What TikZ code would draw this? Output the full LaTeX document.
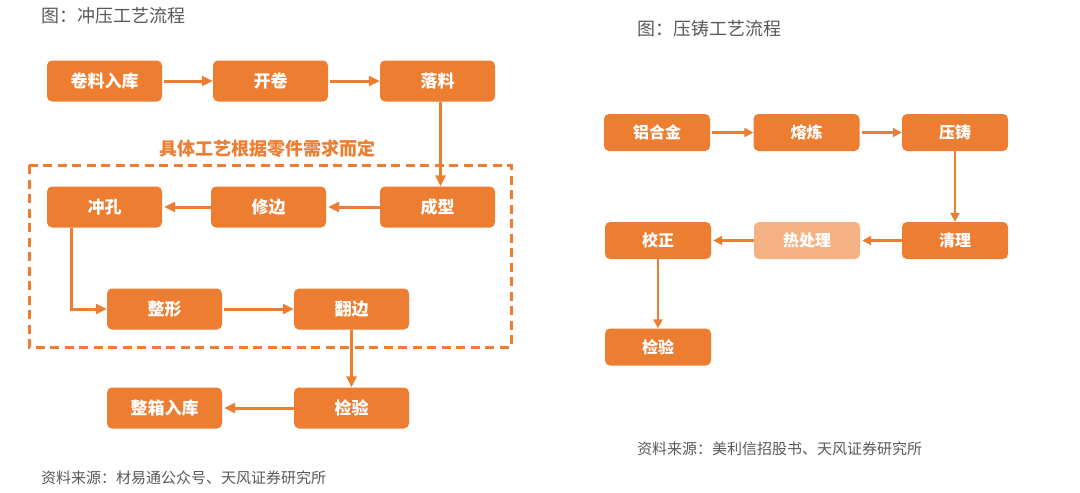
\documentclass[tikz,border=0pt]{standalone}
\usepackage{fontspec}
\setmainfont{Noto Sans CJK SC}
\usetikzlibrary{arrows.meta}
\definecolor{org}{HTML}{ED7D31}
\definecolor{lorg}{HTML}{F4B183}
\definecolor{gry}{HTML}{595959}
\tikzset{
  box/.style={draw=none,fill=org,rounded corners=5pt,text=white,inner sep=0pt},
  lbox/.style={box,minimum width=115pt,minimum height=41pt,font=\fontsize{17}{19}\selectfont\bfseries},
  rbox/.style={box,minimum width=106pt,minimum height=37pt,font=\fontsize{16}{18}\selectfont\bfseries},
  arr/.style={draw=org,line width=3pt,-{Triangle[length=11pt,width=10pt]}},
  rarr/.style={draw=org,line width=2.6pt,-{Triangle[length=9pt,width=9pt]}},
  ttl/.style={text=gry,font=\fontsize{18}{20}\selectfont,anchor=west,inner sep=0pt},
  src/.style={text=gry,font=\fontsize{15}{17}\selectfont,anchor=west,inner sep=0pt}
}
\begin{document}
\begin{tikzpicture}[x=1pt,y=-1pt]
\useasboundingbox (0,0) rectangle (1080,493);
% ---- left diagram ----
\node[ttl] (t1) at (41,16) {图：冲压工艺流程};
\node[lbox] (b1) at (104.5,81) {卷料入库};
\node[lbox] (b2) at (270.5,81) {开卷};
\node[lbox] (b3) at (437.5,81) {落料};
\node[lbox] (b4) at (104.5,207) {冲孔};
\node[lbox] (b5) at (268.5,207) {修边};
\node[lbox] (b6) at (437.5,207) {成型};
\node[lbox] (b7) at (164.5,309) {整形};
\node[lbox] (b8) at (351.5,309) {翻边};
\node[lbox] (b9) at (164.5,408) {整箱入库};
\node[lbox] (b10) at (351.5,408) {检验};
\draw[draw=org,line width=3pt,dash pattern=on 9pt off 5.5pt] (29,165) rectangle (511,347);
\node[text=org,font=\fontsize{18}{20}\selectfont\bfseries,inner sep=0pt] (lab) at (267,149) {具体工艺根据零件需求而定};
\draw[arr] ([xshift=2pt]b1.east) -- (b2.west);
\draw[arr] ([xshift=2pt]b2.east) -- (b3.west);
\draw[arr] ([xshift=3pt]b3.south) -- ([xshift=3pt]b6.north);
\draw[arr] (b6.west) -- ([xshift=2pt]b5.east);
\draw[arr] (b5.west) -- ([xshift=2pt]b4.east);
\draw[arr] ([xshift=25pt]b4.south west) |- (b7.west);
\draw[arr] ([xshift=2pt]b7.east) -- (b8.west);
\draw[arr] (b8.south) -- (b10.north);
\draw[arr] (b10.west) -- ([xshift=2pt]b9.east);
\node[src] (s1) at (41,478) {资料来源：材易通公众号、天风证券研究所};
% ---- right diagram ----
\node[ttl] (t2) at (637,29) {图：压铸工艺流程};
\node[rbox] (r1) at (657,132.5) {铝合金};
\node[rbox] (r2) at (806.5,132.5) {熔炼};
\node[rbox] (r3) at (955,132.5) {压铸};
\node[rbox] (r4) at (955,240.5) {清理};
\node[rbox,fill=lorg] (r5) at (807,240.5) {热处理};
\node[rbox] (r6) at (658,240.5) {校正};
\node[rbox] (r7) at (658,347) {检验};
\draw[rarr] ([xshift=2pt]r1.east) -- (r2.west);
\draw[rarr] ([xshift=2pt]r2.east) -- (r3.west);
\draw[rarr] (r3.south) -- (r4.north);
\draw[rarr] (r4.west) -- ([xshift=2pt]r5.east);
\draw[rarr] (r5.west) -- ([xshift=2pt]r6.east);
\draw[rarr] (r6.south) -- (r7.north);
\node[src] (s2) at (637,449) {资料来源：美利信招股书、天风证券研究所};
\end{tikzpicture}
\end{document}
